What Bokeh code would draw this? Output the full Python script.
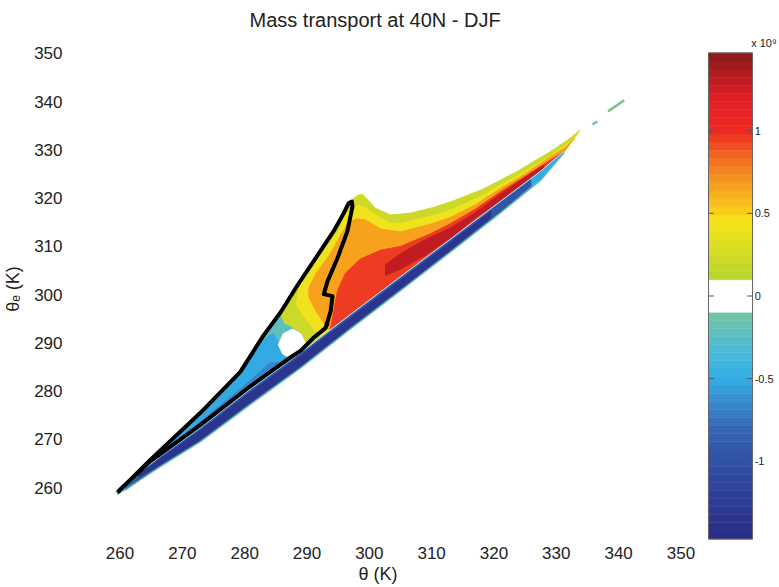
import numpy as np
from bokeh.plotting import figure
from bokeh.models import ColumnDataSource, FixedTicker, Range1d, Title
from bokeh.embed import file_html
from bokeh.resources import INLINE
from bokeh.core.properties import value
from bokeh.transform import linear_cmap

# ---------------- data ----------------
theta_ticks = [260, 270, 280, 290, 300, 310, 320, 330, 340, 350]
thetae_ticks = [260, 270, 280, 290, 300, 310, 320, 330, 340, 350]
cbar_ticks = [-1, -0.5, 0, 0.5, 1]
cbar_tick_labels = ["-1", "-0.5", "0", "0.5", "1"]

# negative region inside the contour (lower-left wedge)
neg_teal_x = [259.4, 264.9, 272.9, 279.3, 283.0, 285.8, 286.4, 287.4, 288.6, 289.8, 290.6, 289.0, 280.9, 272.9, 266.5, 259.9]
neg_teal_y = [259.0, 265.8, 275.5, 284.0, 291.5, 296.6, 294.1, 293.5, 292.5, 290.0, 287.9, 287.3, 279.7, 271.8, 266.0, 259.2]
neg_teal_level = -0.2

neg_blue_x = [260.5, 264.9, 272.9, 279.3, 283.0, 284.5, 285.5, 286.5, 287.0, 280.9, 272.9, 266.5, 261.0]
neg_blue_y = [260.0, 265.4, 274.8, 283.5, 290.5, 292.0, 290.0, 287.5, 286.2, 279.7, 271.8, 266.0, 260.2]
neg_blue_level = -0.5

neg_deep_x = [263.0, 268.0, 274.0, 280.0, 284.0, 285.5, 280.9, 272.9, 266.5, 263.0]
neg_deep_y = [263.2, 268.6, 274.8, 281.2, 285.8, 286.0, 280.3, 272.5, 266.6, 263.0]
neg_deep_level = -0.65

# positive region: outer (yellow-green) ... core (dark red)
pos1_x = [296.7, 298.1, 298.9, 299.9, 301.0, 303.4, 306.6, 309.8, 313.0, 318.3, 323.8, 329.1, 332.0, 333.8,
          331.2, 327.5, 321.0, 313.0, 305.0, 297.0, 290.6, 289.8, 288.6, 287.4, 286.4, 285.8,
          288.5, 291.1, 294.3, 295.9]
pos1_y = [319.0, 320.6, 320.8, 319.4, 317.9, 316.5, 316.9, 317.9, 319.2, 321.9, 325.6, 329.7, 332.2, 334.1,
          329.5, 324.3, 317.7, 309.9, 302.0, 294.1, 287.9, 290.0, 292.5, 293.5, 294.1, 296.0,
          302.2, 307.0, 313.2, 317.3]
pos1_level = 0.2

pos2_x = [297.0, 298.3, 299.4, 301.0, 303.4, 305.0, 309.8, 313.0, 318.3, 321.0, 323.8, 329.1, 332.3, 333.4,
          330.7, 327.5, 321.0, 313.0, 305.0, 297.0, 292.5,
          291.0, 289.5, 288.3, 288.7, 289.9, 292.3, 295.1, 296.5]
pos2_y = [317.9, 318.6, 317.9, 316.5, 314.8, 314.8, 316.2, 317.5, 320.6, 322.7, 324.6, 328.8, 331.8, 333.3,
          328.7, 324.3, 317.7, 309.9, 302.0, 294.1, 290.8,
          293.0, 295.5, 298.0, 301.4, 304.0, 308.4, 313.2, 317.3]
pos2_level = 0.4

pos3_x = [296.5, 297.8, 299.4, 301.8, 305.0, 309.8, 313.0, 317.0, 321.0, 324.3, 328.3, 331.5, 332.9,
          330.7, 327.5, 321.0, 313.0, 305.0, 297.0, 294.0,
          292.8, 291.5, 290.3, 290.3, 291.5, 293.7, 295.5]
pos3_y = [314.8, 315.7, 315.5, 313.6, 313.0, 314.6, 316.0, 318.6, 322.0, 324.5, 327.9, 330.6, 332.4,
          328.7, 324.3, 317.7, 309.9, 302.0, 294.1, 292.0,
          294.0, 296.5, 299.5, 301.4, 304.5, 308.4, 312.5]
pos3_level = 0.65

pos4_x = [293.5, 294.3, 294.9, 296.2, 298.6, 301.8, 305.0, 309.8, 313.0, 317.0, 321.0, 325.1, 328.3, 331.0,
          327.5, 321.0, 313.0, 305.0, 297.0]
pos4_y = [291.0, 296.6, 300.8, 304.5, 307.4, 309.2, 310.0, 312.6, 314.7, 317.7, 321.3, 324.6, 327.3, 329.5,
          324.3, 317.7, 309.9, 302.0, 294.1]
pos4_level = 0.95

pos5_x = [302.6, 305.0, 309.0, 313.0, 317.0, 321.0, 324.0, 326.0, 328.0,
          328.0, 326.0, 324.0, 321.0, 317.0, 313.0, 309.0, 305.0, 302.6]
pos5_y = [306.2, 308.5, 311.4, 313.8, 317.0, 320.8, 323.4, 325.2, 326.8,
          326.4, 324.2, 322.2, 319.4, 315.9, 311.7, 308.2, 305.3, 304.0]
pos5_level = 1.3

# near-zero (white) gap
white_x = [285.4, 286.2, 287.7, 289.0, 289.8, 289.0, 287.4, 286.1]
white_y = [289.6, 291.9, 292.9, 291.9, 289.8, 287.9, 286.7, 287.7]

# strongly negative band along the lower edge
band_x = [259.6, 266.5, 272.9, 280.9, 289.0, 297.0, 305.0, 313.0, 321.0, 327.5, 331.2]
band_lo = [258.55, 264.35, 269.5, 277.2, 284.8, 292.9, 300.8, 308.8, 316.9, 323.7, 329.3]
band_hi = [259.5, 266.5, 272.4, 280.4, 288.0, 295.9, 303.7, 311.5, 319.3, 325.6, 329.7]
band_level = -0.5

bmid_x = [260.9, 266.5, 272.9, 280.9, 289.0, 297.0, 305.0, 313.0, 321.0, 325.9]
bmid_lo = [259.5, 264.6, 269.75, 277.45, 285.05, 293.15, 301.05, 309.05, 317.15, 322.5]
bmid_hi = [260.0, 266.3, 272.2, 280.2, 287.8, 295.7, 303.5, 311.3, 319.1, 323.8]
bmid_level = -0.95

bdark_x = [263.0, 266.5, 272.9, 280.9, 289.0, 297.0, 305.0, 313.0, 319.5]
bdark_lo = [262.1, 264.8, 270.0, 277.7, 285.3, 293.4, 301.3, 309.3, 316.0]
bdark_hi = [262.8, 266.0, 271.8, 279.7, 287.3, 295.2, 303.0, 310.8, 317.2]
bdark_level = -1.35

# thick black contour
contour_x = [259.6, 264.9, 272.9, 279.3, 283.0, 285.8, 288.5, 291.1, 294.3, 295.9, 296.7, 297.2, 297.3,
             296.5, 294.9, 293.3, 292.7, 294.1, 293.8, 293.0, 291.0, 289.0, 286.9,
             280.9, 272.9, 264.9, 260.1, 259.6]
contour_y = [259.0, 265.8, 275.5, 284.0, 291.5, 296.4, 302.0, 307.0, 313.2, 316.9, 319.0, 319.3, 318.3,
             313.2, 307.6, 302.8, 300.1, 299.7, 296.6, 293.1, 291.0, 288.4, 286.6,
             281.0, 273.0, 265.5, 259.7, 259.0]
blob_x = [293.2]
blob_y = [293.9]

# small isolated flecks beyond the tip
fleck_xs = [[335.8, 336.6], [338.3, 340.9]]
fleck_ys = [[335.3, 335.9], [338.0, 340.3]]

# ---------------- colour scale ----------------
LO, HI = -1.47, 1.47
stops = [(-1.47, "#2a2d84"), (-1.2, "#2e3f98"), (-1.0, "#3152a4"), (-0.8, "#3666b2"),
         (-0.65, "#3889cc"), (-0.5, "#33aee4"), (-0.35, "#48b9dc"), (-0.1, "#72c6a2"),
         (0.1, "#b9d432"), (0.3, "#d9dd22"), (0.45, "#f6e51b"), (0.55, "#f9c21a"),
         (0.7, "#f6951e"), (0.85, "#f26622"), (1.0, "#ec2a24"), (1.2, "#de1f26"), (1.47, "#8a191b")]


def _rgb(h):
    return tuple(int(h[i:i + 2], 16) for i in (1, 3, 5))


def interp_color(v):
    for (v0, c0), (v1, c1) in zip(stops[:-1], stops[1:]):
        if v0 <= v <= v1:
            t = (v - v0) / (v1 - v0)
            a, b = _rgb(c0), _rgb(c1)
            return "#%02x%02x%02x" % tuple(int(round(a[i] + t * (b[i] - a[i]))) for i in range(3))
    return stops[0][1] if v < stops[0][0] else stops[-1][1]


NB = 60
edges = np.linspace(LO, HI, NB + 1)
centers = (edges[:-1] + edges[1:]) / 2
palette = [("#ffffff" if abs(c) < 0.098 else interp_color(c)) for c in centers]
cmap = linear_cmap("level", palette, LO, HI)

FONT = "Liberation Sans"
TXT = "#222222"

# ---------------- figure ----------------
p = figure(width=779, height=587, x_range=Range1d(252.86, 365.81), y_range=Range1d(249.03, 353.31),
           output_backend="svg", toolbar_location=None, title=None,
           min_border_left=75, min_border_right=0, min_border_top=36, min_border_bottom=47)
p.extra_x_ranges = {"cb": Range1d(-14.386, 1.6136)}
p.extra_y_ranges = {"cb": Range1d(-1.4786, 1.5631)}
p.outline_line_color = None
p.grid.visible = False
p.background_fill_color = "white"
p.border_fill_color = "white"

title = Title(text="Mass transport at 40N - DJF", align="left", offset=174, standoff=13,
              text_font=FONT, text_font_size="20px", text_font_style="normal", text_color=TXT)
p.add_layout(title, "above")

for ax, ticks in ((p.xaxis[0], theta_ticks), (p.yaxis[0], thetae_ticks)):
    ax.ticker = FixedTicker(ticks=ticks)
    ax.axis_line_color = None
    ax.major_tick_line_color = None
    ax.minor_tick_line_color = None
    ax.major_tick_out = 0
    ax.major_tick_in = 0
    ax.major_label_text_font = FONT
    ax.major_label_text_font_size = "17px"
    ax.major_label_text_color = TXT
p.xaxis.major_label_standoff = 6
p.yaxis.major_label_standoff = 13
p.yaxis.axis_label = "θₑ (K)"
p.yaxis.axis_label_text_font = FONT
p.yaxis.axis_label_text_font_size = "18px"
p.yaxis.axis_label_text_font_style = "normal"
p.yaxis.axis_label_text_color = TXT
p.yaxis.axis_label_standoff = 8

xlab = Title(text="θ (K)", align="left", offset=283, standoff=0,
             text_font=FONT, text_font_size="18px", text_font_style="normal", text_color=TXT)
p.add_layout(xlab, "below")

polys = [
    (neg_teal_x, neg_teal_y, neg_teal_level),
    (neg_blue_x, neg_blue_y, neg_blue_level),
    (neg_deep_x, neg_deep_y, neg_deep_level),
    (pos1_x, pos1_y, pos1_level),
    (pos2_x, pos2_y, pos2_level),
    (pos3_x, pos3_y, pos3_level),
    (pos4_x, pos4_y, pos4_level),
    (pos5_x, pos5_y, pos5_level),
    (white_x, white_y, 0.0),
    (band_x + band_x[::-1], band_lo + band_hi[::-1], band_level),
    (bmid_x + bmid_x[::-1], bmid_lo + bmid_hi[::-1], bmid_level),
    (bdark_x + bdark_x[::-1], bdark_lo + bdark_hi[::-1], bdark_level),
]
src = ColumnDataSource(dict(xs=[a[0] for a in polys], ys=[a[1] for a in polys], level=[a[2] for a in polys]))
p.patches("xs", "ys", source=src, fill_color=cmap, line_color=cmap, line_width=1.0)

p.line(band_x, band_hi, line_color="white", line_width=1.0, line_alpha=0.7)
p.line(band_x, band_lo, line_color="#74c6a0", line_width=1.3, line_alpha=0.8)
p.multi_line(fleck_xs, fleck_ys, line_color="#7fc08e", line_width=2.5)

p.line(contour_x, contour_y, line_color="black", line_width=4, line_join="round")
p.scatter(blob_x, blob_y, size=4, color="black")

# ---------------- colour bar (drawn on its own ranges) ----------------
cbsrc = ColumnDataSource(dict(bottom=list(edges[:-1]), top=list(edges[1:]), level=list(centers)))
R = dict(x_range_name="cb", y_range_name="cb")
p.quad(left=0, right=1, bottom="bottom", top="top", source=cbsrc, fill_color=cmap, line_color=cmap,
       line_width=0.5, **R)
p.quad(left=[0], right=[1], bottom=[LO], top=[HI], fill_color=None, line_color="#666666", line_width=1, **R)
p.segment(x0=[0] * 5, x1=[0.12] * 5, y0=cbar_ticks, y1=cbar_ticks, line_color="#555555", line_width=1, **R)
p.segment(x0=[0.88] * 5, x1=[1] * 5, y0=cbar_ticks, y1=cbar_ticks, line_color="#555555", line_width=1, **R)
p.text(x=[1.05] * 5, y=cbar_ticks, text=cbar_tick_labels, text_font=value(FONT), text_font_size="11px",
       text_baseline="middle", text_align="left", text_color=TXT, **R)
p.text(x=[0.97], y=[1.527], text=["x 10⁹"], text_font=value(FONT), text_font_size="11px",
       text_baseline="middle", text_align="left", text_color=TXT, **R)

open("out.html", "w").write(file_html(p, INLINE))
